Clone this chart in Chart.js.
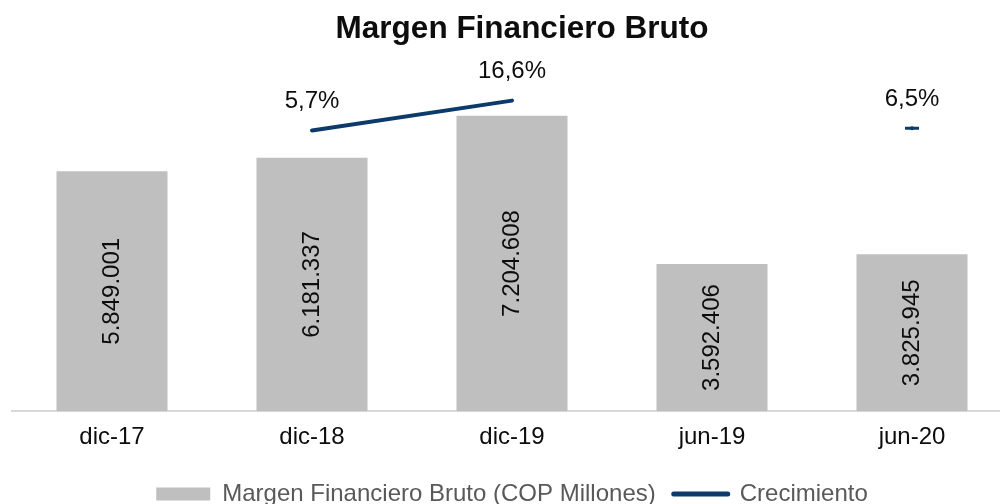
<!DOCTYPE html>
<html>
<head>
<meta charset="utf-8">
<script src="https://cdn.jsdelivr.net/npm/chart.js@4"></script>
<style>
  html, body { margin: 0; padding: 0; background: #fff; overflow: hidden; }
  #wrap { width: 1040px; height: 504px; }
</style>
</head>
<body>
<div id="wrap"><canvas id="chart" width="1040" height="504"></canvas></div>
<script>
// Chart data
const periods = ['dic-17', 'dic-18', 'dic-19', 'jun-19', 'jun-20'];
const margen = [5849001, 6181337, 7204608, 3592406, 3825945]; // COP Millones
const crecimiento = [null, 5.7, 16.6, null, 6.5]; // %

const navy = '#0b3a6b';
const gray = '#bfbfbf';
const textColor = '#0d0d0d';
const font = 'Arial, "Liberation Sans", sans-serif';

// thousands with dots, decimals with comma
const fmtMiles = v => String(v).replace(/\B(?=(\d{3})+(?!\d))/g, '.');
const fmtPct = v => v.toFixed(1).replace('.', ',') + '%';

// value labels drawn from the elements the library placed
const valueLabels = {
    id: 'valueLabels',
    afterInit(chart) {
        // keep the legend box short so its padding only spaces the items
        const lg = chart.legend;
        const fit = lg.fit.bind(lg);
        lg.fit = function () { fit(); this.height = 40; };
    },
    afterLayout(chart) {
        // title sits a bit right of the plot centre
        chart.titleBlock.left += 10;
        chart.titleBlock.right += 10;
    },
    afterDatasetsDraw(chart) {
        const ctx = chart.ctx;
        ctx.save();
        ctx.fillStyle = textColor;
        ctx.font = '24px ' + font;
        ctx.textAlign = 'center';
        ctx.textBaseline = 'middle';

        // bars: rotated, centered in the bar
        chart.getDatasetMeta(0).data.forEach((bar, i) => {
            ctx.save();
            ctx.translate(bar.x, (bar.y + bar.base) / 2);
            ctx.rotate(-Math.PI / 2);
            ctx.fillText(fmtMiles(margen[i]), 0, 0);
            ctx.restore();
        });

        // line: above each point
        chart.getDatasetMeta(1).data.forEach((pt, i) => {
            if (crecimiento[i] === null) return;
            ctx.fillText(fmtPct(crecimiento[i]), pt.x, pt.y - 29);
        });
        ctx.restore();
    }
};

const ctx = document.getElementById('chart').getContext('2d');

const myChart = new Chart(ctx, {
    data: {
        labels: periods,
        datasets: [{
            type: 'bar',
            label: 'Margen Financiero Bruto (COP Millones)',
            data: margen,
            backgroundColor: gray,
            categoryPercentage: 1,
            barPercentage: 0.555,
            yAxisID: 'y',
            order: 2
        }, {
            type: 'line',
            label: 'Crecimiento',
            data: crecimiento,
            borderColor: navy,
            backgroundColor: navy,
            borderWidth: 4,
            borderCapStyle: 'round',
            spanGaps: false,
            pointStyle: 'line',
            // a lone point (no neighbours) shows as a short dash
            pointRadius: c => {
                const d = crecimiento, i = c.dataIndex;
                const lone = (d[i - 1] == null) && (d[i + 1] == null);
                return lone ? 7 : 0;
            },
            pointBorderWidth: 3,
            pointBorderColor: navy,
            yAxisID: 'y1',
            order: 1
        }]
    },
    options: {
        responsive: false,
        animation: false,
        layout: { padding: { left: 12, right: 28, top: 0, bottom: 0 } },
        scales: {
            x: {
                grid: { display: false, drawTicks: false },
                border: { display: true, color: '#d9d9d9', width: 2 },
                ticks: { color: textColor, font: { size: 24, family: font }, padding: 12 }
            },
            y: {
                display: false,
                min: 0,
                max: 8570000
            },
            y1: {
                display: false,
                min: -96.8,
                max: 31.5
            }
        },
        plugins: {
            title: {
                display: true,
                text: 'Margen Financiero Bruto',
                color: textColor,
                font: { size: 31.5, weight: 'bold', family: font },
                padding: { top: 10, bottom: 12 }
            },
            legend: {
                position: 'bottom',
                labels: {
                    color: '#595959',
                    font: { size: 24, family: font },
                    usePointStyle: true,
                    pointStyleWidth: 54,
                    boxHeight: 13,
                    padding: 18,
                    generateLabels: chart => [{
                        text: chart.data.datasets[0].label,
                        fillStyle: gray, strokeStyle: gray, lineWidth: 0,
                        pointStyle: 'rect', datasetIndex: 0, fontColor: '#595959'
                    }, {
                        text: chart.data.datasets[1].label,
                        fillStyle: navy, strokeStyle: navy, lineWidth: 5, lineCap: 'round',
                        pointStyle: 'line', datasetIndex: 1, fontColor: '#595959'
                    }]
                }
            },
            tooltip: { enabled: false }
        }
    },
    plugins: [valueLabels]
});
</script>
</body>
</html>
